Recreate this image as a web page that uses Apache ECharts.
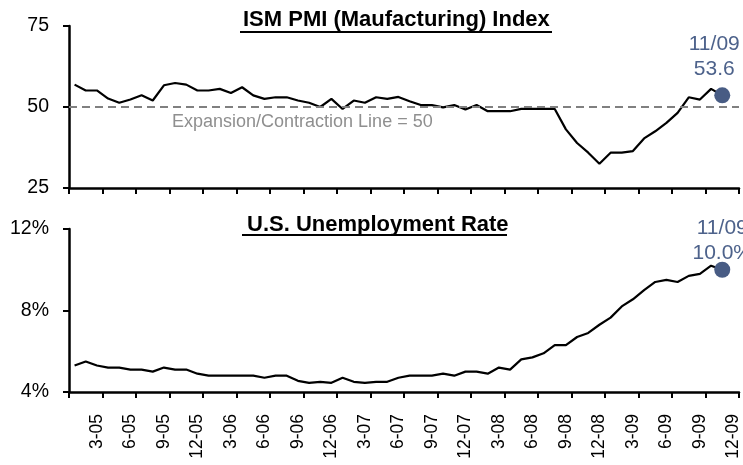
<!DOCTYPE html>
<html>
<head>
<meta charset="utf-8">
<script src="https://cdn.jsdelivr.net/npm/echarts@6/dist/echarts.min.js"></script>
<style>
html,body{margin:0;padding:0;background:#fff;}
#chart{width:743px;height:465px;}
</style>
</head>
<body>
<div id="chart"></div>
<script>
// ---- data ----
var categories = [
  '1-05','2-05','3-05','4-05','5-05','6-05','7-05','8-05','9-05','10-05','11-05','12-05',
  '1-06','2-06','3-06','4-06','5-06','6-06','7-06','8-06','9-06','10-06','11-06','12-06',
  '1-07','2-07','3-07','4-07','5-07','6-07','7-07','8-07','9-07','10-07','11-07','12-07',
  '1-08','2-08','3-08','4-08','5-08','6-08','7-08','8-08','9-08','10-08','11-08','12-08',
  '1-09','2-09','3-09','4-09','5-09','6-09','7-09','8-09','9-09','10-09','11-09','12-09'
];
var pmi = [
  56.9,55.1,55.1,52.6,51.3,52.3,53.6,52.0,56.7,57.4,56.9,55.1,
  55.1,55.6,54.3,56.1,53.6,52.5,53.0,53.0,52.0,51.3,50.0,52.5,
  49.4,52.0,51.3,53.0,52.5,53.1,51.8,50.6,50.6,49.9,50.6,49.2,
  50.6,48.7,48.7,48.7,49.4,49.4,49.4,49.4,43.1,38.9,35.9,32.5,
  35.9,35.9,36.4,40.3,42.5,45.1,48.2,53.0,52.3,55.6,53.6,null
];
var unemployment = [
  5.3,5.5,5.3,5.2,5.2,5.1,5.1,5.0,5.2,5.1,5.1,4.9,
  4.8,4.8,4.8,4.8,4.8,4.7,4.8,4.8,4.55,4.45,4.5,4.45,
  4.7,4.5,4.45,4.5,4.5,4.7,4.8,4.8,4.8,4.9,4.8,5.0,
  5.0,4.9,5.2,5.1,5.6,5.7,5.9,6.3,6.3,6.7,6.9,7.3,
  7.65,8.2,8.55,9.0,9.4,9.5,9.4,9.7,9.8,10.2,10.0,null
];
var pmiTicks = [25, 50, 75];
var unempTicks = [4, 8, 12];
var expansionLine = 50;
var latestCategory = '11-09';
var latestLabel = '11/09';
var titles = ['ISM PMI (Maufacturing) Index', 'U.S. Unemployment Rate'];
var expansionText = 'Expansion/Contraction Line = 50';

// ---- chart ----
var FONT = '"Liberation Sans", Arial, sans-serif';
var latestIdx = categories.indexOf(latestCategory);
var chart = echarts.init(document.getElementById('chart'), null, {renderer: 'canvas'});

function xAxisCfg(gridIndex, showLabels) {
  return {
    type: 'category', gridIndex: gridIndex, data: categories, boundaryGap: true,
    axisLine: {show: true, onZero: false, lineStyle: {color: '#000', width: 2.5}},
    axisTick: {show: true, interval: 2, length: 6, inside: false, lineStyle: {color: '#000', width: 2}},
    axisLabel: {
      show: showLabels, rotate: 90, margin: 22, fontSize: 17.5, color: '#000', fontFamily: FONT,
      interval: function (i) { return i % 3 === 2; }
    },
    splitLine: {show: false}
  };
}
function yAxisCfg(gridIndex, ticks, fmt) {
  return {
    type: 'value', gridIndex: gridIndex, min: ticks[0], max: ticks[ticks.length - 1],
    interval: ticks[1] - ticks[0],
    axisLine: {show: true, lineStyle: {color: '#000', width: 2.5}},
    axisTick: {show: true, length: 6, lineStyle: {color: '#000', width: 2}},
    axisLabel: {margin: 20, fontSize: 19.5, color: '#000', fontFamily: FONT, formatter: fmt},
    splitLine: {show: false}
  };
}

var option = {
  animation: false,
  backgroundColor: '#fff',
  title: [
    {text: titles[0], left: 243, top: 9, padding: 0,
     textStyle: {fontSize: 22, fontWeight: 'bold', color: '#000', fontFamily: FONT}},
    {text: titles[1], left: 247, top: 214, padding: 0,
     textStyle: {fontSize: 22, fontWeight: 'bold', color: '#000', fontFamily: FONT}},
    {text: expansionText, left: 172, top: 113, padding: 0,
     textStyle: {fontSize: 18, fontWeight: 'normal', color: '#8f8f8f', fontFamily: FONT}}
  ],
  graphic: [
    {type: 'line', shape: {x1: 240, y1: 32, x2: 552, y2: 32}, style: {stroke: '#000', lineWidth: 2}},
    {type: 'line', shape: {x1: 242, y1: 235, x2: 507, y2: 235}, style: {stroke: '#000', lineWidth: 2}}
  ],
  grid: [
    {left: 69, right: 4, top: 26, height: 162, containLabel: false},
    {left: 69, right: 4, top: 229, height: 163, containLabel: false}
  ],
  xAxis: [xAxisCfg(0, false), xAxisCfg(1, true)],
  yAxis: [
    yAxisCfg(0, pmiTicks, '{value}'),
    yAxisCfg(1, unempTicks, '{value}%')
  ],
  series: [
    {
      type: 'line', xAxisIndex: 0, yAxisIndex: 0, data: pmi,
      showSymbol: false, symbol: 'none',
      lineStyle: {color: '#000', width: 2.2},
      markLine: {
        silent: true, symbol: ['none', 'none'],
        label: {show: false},
        lineStyle: {color: '#808080', width: 2, type: [8, 5]},
        data: [{yAxis: expansionLine}]
      },
      z: 3
    },
    {
      type: 'line', xAxisIndex: 1, yAxisIndex: 1, data: unemployment,
      showSymbol: false, symbol: 'none',
      lineStyle: {color: '#000', width: 2.2},
      z: 3
    },
    {
      type: 'scatter', xAxisIndex: 0, yAxisIndex: 0, symbolSize: 16,
      itemStyle: {color: '#485c84', opacity: 1},
      data: [[latestCategory, pmi[latestIdx]]],
      label: {
        show: true, position: 'top', distance: 6, offset: [-8, 0],
        formatter: function (p) { return latestLabel + '\n' + p.value[1].toFixed(1); },
        fontSize: 21, lineHeight: 25, color: '#4d628b', opacity: 1, fontFamily: FONT, align: 'center'
      },
      z: 5
    },
    {
      type: 'scatter', xAxisIndex: 1, yAxisIndex: 1, symbolSize: 16,
      itemStyle: {color: '#485c84', opacity: 1},
      data: [[latestCategory, unemployment[latestIdx]]],
      label: {
        show: true, position: 'top', distance: -4, offset: [0, 0],
        formatter: function (p) { return latestLabel + '\n' + p.value[1].toFixed(1) + '%'; },
        fontSize: 21, lineHeight: 25, color: '#4d628b', opacity: 1, fontFamily: FONT, align: 'center'
      },
      z: 5
    }
  ]
};
chart.setOption(option);
</script>
</body>
</html>
